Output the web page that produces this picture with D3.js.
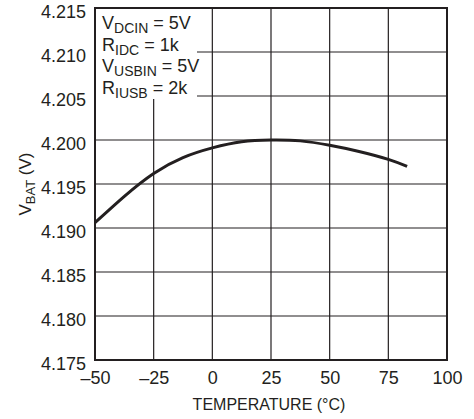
<!DOCTYPE html>
<html>
<head>
<meta charset="utf-8">
<script src="https://cdn.jsdelivr.net/npm/d3@7"></script>
<style>
  body { margin: 0; background: #fff; }
  text { font-family: "Liberation Sans", Arial, sans-serif; fill: #231f20; }
</style>
</head>
<body>
<script>
var width = 474;
var height = 419;

// values
var temps = [-50, -37.5, -25, -12.5, 0, 12.5, 25, 37.5, 50, 62.5, 75, 83];
var vbat = [4.1906, 4.1936, 4.1962, 4.1980, 4.1991, 4.1998, 4.2000, 4.1999, 4.1994, 4.1987, 4.1978, 4.1970];

var xTicks = [-50, -25, 0, 25, 50, 75, 100];
var yTicks = [4.175, 4.180, 4.185, 4.190, 4.195, 4.200, 4.205, 4.210, 4.215];

var legendLines = [
    ["V", "DCIN", " = 5V"],
    ["R", "IDC", " = 1k"],
    ["V", "USBIN", " = 5V"],
    ["R", "IUSB", " = 2k"]
];

var margin = {left: 95, top: 8, right: 27, bottom: 59};
var plotW = width - margin.left - margin.right;
var plotH = height - margin.top - margin.bottom;

var svg = d3.select("body").append("svg")
    .attr("width", width)
    .attr("height", height);

var g = svg.append("g")
    .attr("transform", "translate(" + margin.left + "," + margin.top + ")");

var x = d3.scaleLinear().domain([-50, 100]).range([0, plotW]);
var y = d3.scaleLinear().domain([4.175, 4.215]).range([plotH, 0]);

// grid
g.append("g").selectAll("line")
    .data(xTicks)
    .enter().append("line")
    .attr("x1", function(d) { return x(d); })
    .attr("x2", function(d) { return x(d); })
    .attr("y1", 0).attr("y2", plotH)
    .attr("stroke", "#231f20").attr("stroke-width", 1.2);

g.append("g").selectAll("line")
    .data(yTicks)
    .enter().append("line")
    .attr("x1", 0).attr("x2", plotW)
    .attr("y1", function(d) { return y(d); })
    .attr("y2", function(d) { return y(d); })
    .attr("stroke", "#231f20").attr("stroke-width", 1.2);

// legend box covers the grid
g.append("rect")
    .attr("x", 0).attr("y", 0)
    .attr("width", 102).attr("height", 91)
    .attr("fill", "#fff");

var legend = g.append("g").selectAll("text")
    .data(legendLines)
    .enter().append("text")
    .attr("x", 7)
    .attr("y", function(d, i) { return 21 + i * 21.5; })
    .style("font-size", "18px");
legend.append("tspan").text(function(d) { return d[0]; });
legend.append("tspan").attr("dy", 4).style("font-size", "14px").text(function(d) { return d[1]; });
legend.append("tspan").attr("dy", -4).text(function(d) { return d[2]; });

// frame
g.append("rect")
    .attr("width", plotW).attr("height", plotH)
    .attr("fill", "none")
    .attr("stroke", "#231f20").attr("stroke-width", 2);

// curve
var line = d3.line()
    .x(function(d, i) { return x(temps[i]); })
    .y(function(d) { return y(d); })
    .curve(d3.curveNatural);

g.append("path")
    .datum(vbat)
    .attr("d", line)
    .attr("fill", "none")
    .attr("stroke", "#231f20")
    .attr("stroke-width", 3);

// axes
var xAxis = d3.axisBottom(x).tickValues(xTicks).tickSize(0).tickPadding(11)
    .tickFormat(function(d) { return d < 0 ? "\u2013" + Math.abs(d) : d; });
var yAxis = d3.axisLeft(y).tickValues(yTicks).tickSize(0).tickPadding(9)
    .tickFormat(d3.format(".3f"));

var gx = g.append("g").attr("transform", "translate(0," + plotH + ")").call(xAxis);
var gy = g.append("g").call(yAxis);
[gx, gy].forEach(function(a) {
    a.select(".domain").remove();
    a.selectAll("text").style("font-size", "18px").attr("fill", "#231f20");
});
gy.selectAll("text").attr("dy", "0.5em");

// axis titles
g.append("text")
    .attr("x", plotW / 2 - 2)
    .attr("y", plotH + 50)
    .attr("text-anchor", "middle")
    .style("font-size", "16px")
    .text("TEMPERATURE (\u00B0C)");

var yl = svg.append("text")
    .attr("transform", "translate(31," + (margin.top + plotH / 2) + ") rotate(-90)")
    .attr("text-anchor", "middle")
    .style("font-size", "17px");
yl.append("tspan").text("V");
yl.append("tspan").attr("dy", 4).style("font-size", "13px").text("BAT");
yl.append("tspan").attr("dy", -4).text(" (V)");
</script>
</body>
</html>
